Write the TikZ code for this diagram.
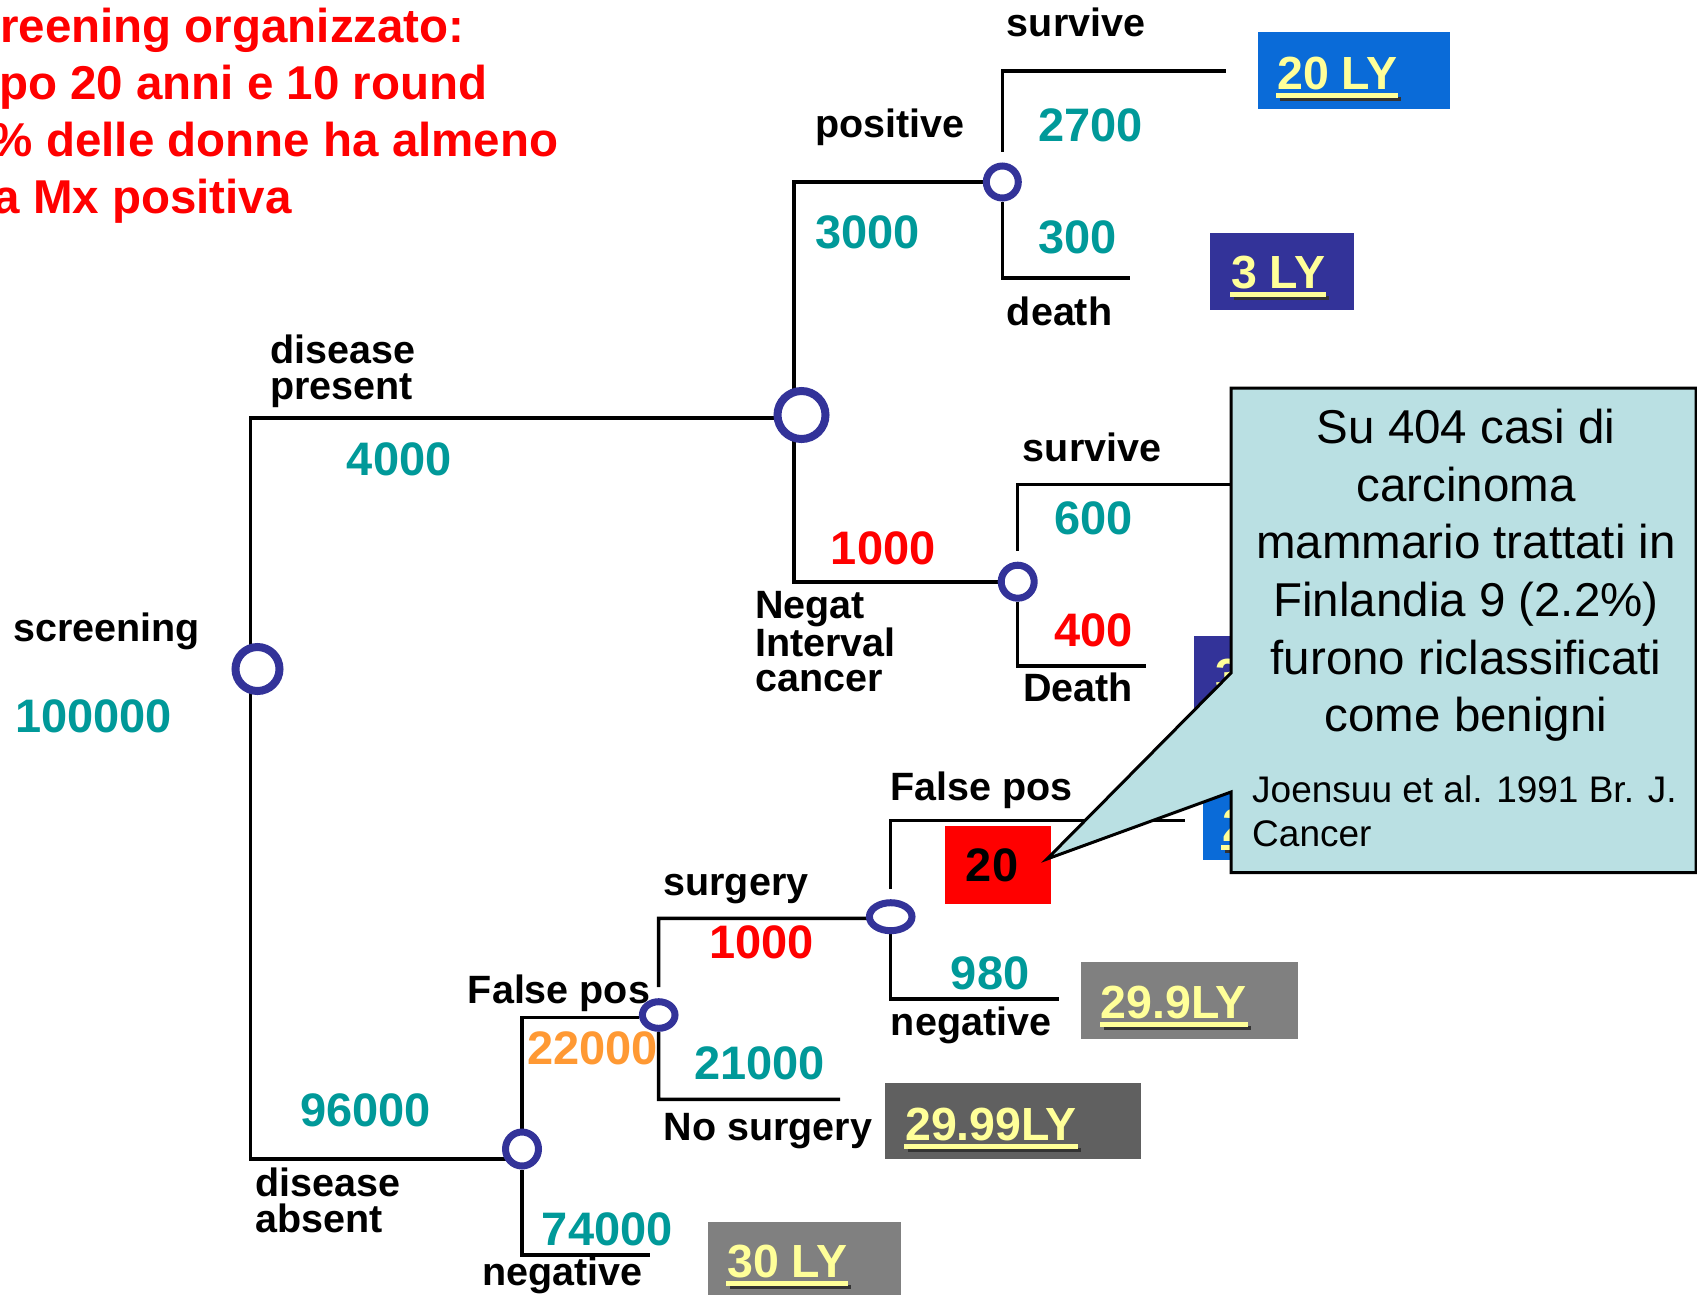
\documentclass[tikz,border=0pt]{standalone}
\usepackage{fontspec}
\setmainfont{Liberation Sans}
\usetikzlibrary{shapes.geometric,backgrounds}
\definecolor{tealc}{HTML}{009999}
\definecolor{nodeblue}{HTML}{333399}
\definecolor{redc}{HTML}{FF0000}
\definecolor{orangec}{HTML}{FF9933}
\definecolor{lyyellow}{HTML}{FFFF99}
\definecolor{bluebox}{HTML}{0A6BD8}
\definecolor{callfill}{HTML}{BAE0E3}
\definecolor{grayA}{HTML}{808080}
\definecolor{grayB}{HTML}{606060}
\begin{document}
\begin{tikzpicture}[x=1pt,y=-1pt,
  branch/.style={line width=3.5pt},
  chance/.style={ellipse, draw=nodeblue, fill=white, inner sep=0pt},
  lbl/.style={font=\fontsize{39.5}{35.5}\selectfont\bfseries, inner sep=0pt, anchor=base west},
  num/.style={font=\fontsize{47}{50}\selectfont\bfseries, inner sep=0pt, anchor=base west, text=tealc},
  lytext/.style={font=\fontsize{46.5}{50}\selectfont\bfseries, text=lyyellow, inner sep=0pt, anchor=base west},
  lybox/.style={inner sep=0pt, anchor=north west, draw=none},
  header/.style={font=\fontsize{47.5}{57}\selectfont\bfseries, text=redc, inner sep=0pt}
]
\useasboundingbox (0,0) rectangle (1697,1294);
\clip (0,0) rectangle (1697,1294);

% header
\node[header, anchor=base west] (h1) at (0,42.7) {reening organizzato:};
\node[header, anchor=base west] (h2) at (-1,99.3) {po 20 anni e 10 round};
\node[header, anchor=base east] (h3) at (558.5,156.7) {\% delle donne ha almeno};
\node[header, anchor=base east] (h4) at (292,213.3) {a Mx positiva};

% chance nodes
\node[chance, line width=8pt, minimum width=44pt, minimum height=44pt] (R) at (257.5,669) {};
\node[chance, line width=8pt, minimum width=48pt, minimum height=48pt] (DP) at (801.5,415) {};
\node[chance, line width=7pt, minimum width=32pt, minimum height=32pt] (POS) at (1002.3,182) {};
\node[chance, line width=7pt, minimum width=33pt, minimum height=33pt] (NEG) at (1017.7,581.7) {};
\node[chance, line width=7pt, minimum width=33pt, minimum height=34pt] (DA) at (522,1149) {};
\node[chance, line width=7pt, minimum width=32.6pt, minimum height=26.6pt] (FP) at (658.7,1015) {};
\node[chance, line width=7pt, minimum width=42.6pt, minimum height=28pt] (SURG) at (890.7,916.7) {};

% branch corners
\coordinate (Rup) at (250.5,418);
\coordinate (Rdn) at (250.5,1159);
\coordinate (DPup) at (794,182);
\coordinate (DPdn) at (794,582);
\coordinate (POSup) at (1002.3,71);
\coordinate (POSupE) at (1226,71);
\coordinate (POSdn) at (1002.3,278);
\coordinate (POSdnE) at (1130,278);
\coordinate (NEGup) at (1017.7,484.7);
\coordinate (NEGupE) at (1245,484.7);
\coordinate (NEGdn) at (1017.7,666);
\coordinate (NEGdnE) at (1145.7,666);
\coordinate (DAup) at (522,1017.7);
\coordinate (DAdn) at (522,1255);
\coordinate (DAdnE) at (650,1255);
\coordinate (FPup) at (658.5,918.3);
\coordinate (FPdn) at (658.5,1099.3);
\coordinate (FPdnE) at (840,1099.3);
\coordinate (SGup) at (890.7,820.7);
\coordinate (SGupE) at (1185,820.7);
\coordinate (SGdn) at (890.7,999);
\coordinate (SGdnE) at (1059.3,999);

\begin{scope}[on background layer]
\fill[white] (0,0) rectangle (1697,1294);
\draw[branch] (Rup |- R) -- (Rup) -- (Rup -| DP);
\draw[branch] (Rdn |- R) -- (Rdn) -- (Rdn -| DA);
\draw[branch] (DPup -| POS) -- (DPup) -- (DPdn) -- (DPdn -| NEG);
\draw[branch] ([yshift=11pt]POS.north) -- (POSup) -- (POSupE);
\draw[branch] (POS) -- (POSdn) -- (POSdnE);
\draw[branch] ([yshift=11pt]NEG.north) -- (NEGup) -- (NEGupE);
\draw[branch] (NEG) -- (NEGdn) -- (NEGdnE);
\draw[branch] (DA) -- (DAup) -- (DAup -| FP.west);
\draw[branch] (DA) -- (DAdn) -- (DAdnE);
\draw[branch] ([yshift=11pt]FP.north) -- (FPup) -- (FPup -| SURG);
\draw[branch] (FP) -- (FPdn) -- (FPdnE);
\draw[branch] ([yshift=10pt]SURG.north) -- (SGup) -- (SGupE);
\draw[branch] (SURG) -- (SGdn) -- (SGdnE);
\end{scope}

% labels and numbers
\node[lbl] (lsurv1) at (1006.7,36.7) {survive};
\node[lbl] (lpos) at (815,137.7) {positive};
\node[num] (n2700) at (1038,141.7) {2700};
\node[num] (n3000) at (815,248.3) {3000};
\node[num] (n300) at (1038,253.3) {300};
\node[lbl] (ldeath) at (1006.7,325) {death};
\node[lbl, align=left] (ldp) at (270,399) {disease\\present};
\node[num] (n4000) at (346.7,475.7) {4000};
\node[lbl] (lscr) at (13.3,641.7) {screening};
\node[num] (n100000) at (15,732.3) {100000};
\node[lbl] (lsurv2) at (1022.7,461.7) {survive};
\node[num] (n600) at (1054,534) {600};
\node[num, text=redc] (n1000a) at (830.7,564) {1000};
\node[num, text=redc] (n400) at (1054,646) {400};
\node[lbl] (lDeath) at (1023,701.7) {Death};
\node[lbl, align=left] (lnic) at (755,691.7) {Negat\\Interval\\cancer};
\node[lbl] (lfp1) at (890,800) {False pos};
\node[lbl] (lsurg) at (663.3,895) {surgery};
\node[num, text=redc] (n1000b) at (709.3,958.3) {1000};
\node[num] (n980) at (950.7,989) {980};
\node[lbl] (lneg1) at (890.7,1035) {negative};
\node[lbl] (lfp2) at (467.7,1003) {False pos};
\node[num, text=orangec] (n22000) at (527,1064) {22000};
\node[num] (n21000) at (694,1079.3) {21000};
\node[lbl] (lnosurg) at (663.3,1140) {No surgery};
\node[num] (n96000) at (300,1126) {96000};
\node[lbl, align=left] (lda) at (255,1232.3) {disease\\absent};
\node[num] (n74000) at (541.7,1245) {74000};
\node[lbl] (lneg2) at (482.3,1285) {negative};

% 20 box
\node[lybox, fill=redc, minimum width=106pt, minimum height=78pt] (twentybox) at (945,826) {};
\node[num, text=black, anchor=center] (twenty) at (992,865) {20};

% LY boxes
\node[lybox, fill=bluebox, minimum width=192pt, minimum height=77pt] (b20) at (1258,32) {};
\node[lytext] (t20) at (1277,89.3) {20 LY};
\node[lybox, fill=nodeblue, minimum width=144pt, minimum height=77pt] (b3) at (1210,233) {};
\node[lytext] (t3) at (1231,288.3) {3 LY};
\node[lybox, fill=nodeblue, minimum width=144pt, minimum height=77pt] (bh3) at (1194,636) {};
\node[lytext] (th3) at (1215,691) {3};
\node[lybox, fill=bluebox, minimum width=192pt, minimum height=76pt] (bh2) at (1203,784) {};
\node[lytext] (th2) at (1222,841) {2};
\node[lybox, fill=grayA, minimum width=217pt, minimum height=77pt] (b299) at (1081,962) {};
\node[lytext] (t299) at (1100.7,1018) {29.9LY};
\node[lybox, fill=grayB, minimum width=256pt, minimum height=76pt] (b2999) at (885,1083) {};
\node[lytext] (t2999) at (905,1140) {29.99LY};
\node[lybox, fill=grayA, minimum width=193pt, minimum height=80pt] (b30) at (708,1222) {};
\node[lytext] (t30) at (727,1277) {30 LY};

% underlines
\foreach \t in {t20,t3,th2,t299,t2999,t30}{
  \fill[black!80] ([xshift=3pt,yshift=-8pt]\t.base west) rectangle ([xshift=4pt,yshift=-12pt]\t.base east);
  \fill[lyyellow] ([xshift=-1pt,yshift=-4pt]\t.base west) rectangle ([xshift=1pt,yshift=-9pt]\t.base east);
}

% callout
\filldraw[fill=callfill, draw=black, line width=3pt, line join=miter]
  (1231,388) -- (1696,388) -- (1696,872.5) -- (1231,872.5) -- (1231,792)
  -- (1047,859) -- (1231,673) -- cycle;
\node[align=center, anchor=base, inner sep=0pt, font=\fontsize{47.5}{57.6}\selectfont] (calltext) at (1466,731.7)
  {Su 404 casi di\\carcinoma\\mammario trattati in\\Finlandia 9 (2.2\%)\\furono riclassificati\\come benigni};
\node[align=left, anchor=base west, inner sep=0pt, font=\fontsize{37}{44}\selectfont] (cite) at (1252,846)
  {Joensuu et al. 1991 Br. J.\\Cancer};
\end{tikzpicture}
\end{document}
